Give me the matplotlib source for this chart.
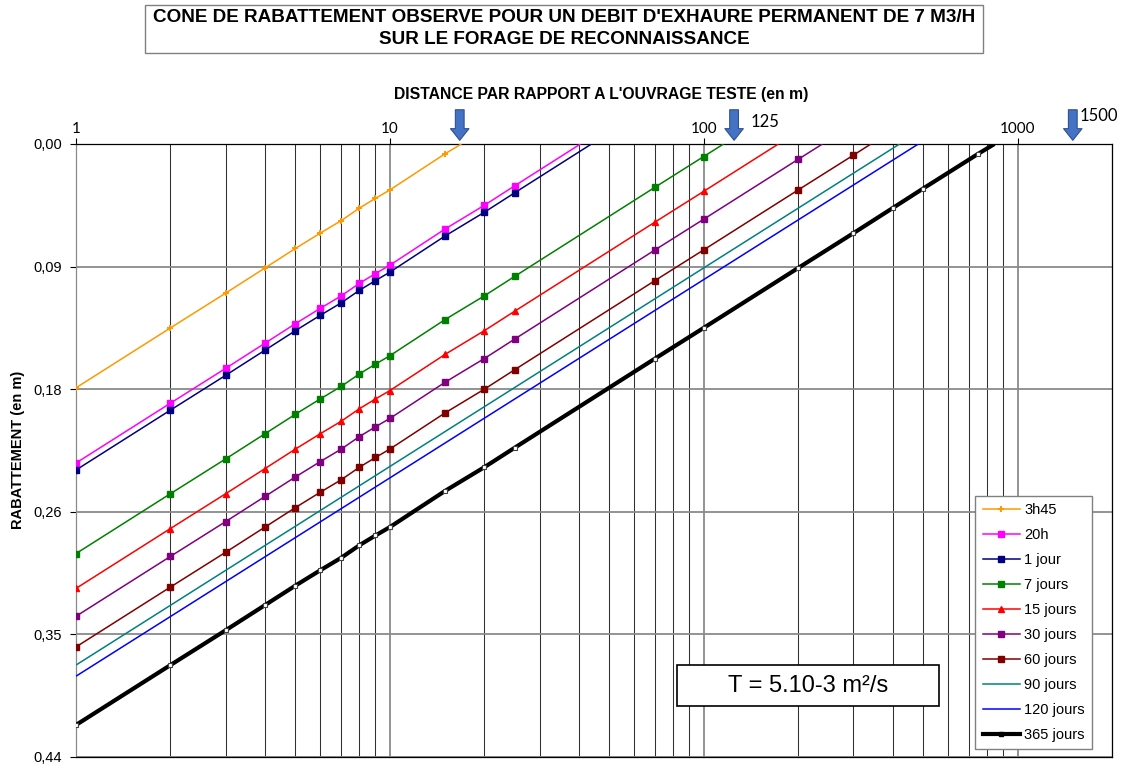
import matplotlib
matplotlib.use('Agg')
import matplotlib.pyplot as plt
from matplotlib.ticker import FixedLocator, FixedFormatter, NullFormatter
from matplotlib.patches import Rectangle
from matplotlib.lines import Line2D

plt.rcParams['font.family'] = ['Liberation Sans', 'DejaVu Sans']

W, H = 1123, 767

# ---------------- data (distance in m, drawdown in m) ----------------
r_3h45 = [1, 2, 3, 4, 5, 6, 7, 8, 9, 10, 15]
s_3h45 = [0.175, 0.132, 0.107, 0.089, 0.075, 0.064, 0.055, 0.046, 0.039, 0.033, 0.007]
r0_3h45 = 16.9

r_20h = [1, 2, 3, 4, 5, 6, 7, 8, 9, 10, 15, 20, 25]
s_20h = [0.229, 0.186, 0.161, 0.143, 0.129, 0.118, 0.109, 0.100, 0.093, 0.087, 0.061, 0.044, 0.030]
r0_20h = 40.5

r_1j = [1, 2, 3, 4, 5, 6, 7, 8, 9, 10, 15, 20, 25]
s_1j = [0.234, 0.191, 0.166, 0.148, 0.134, 0.123, 0.114, 0.105, 0.098, 0.092, 0.066, 0.049, 0.035]
r0_1j = 43.9

r_7j = [1, 2, 3, 4, 5, 6, 7, 8, 9, 10, 15, 20, 25, 70, 100]
s_7j = [0.294, 0.251, 0.226, 0.208, 0.194, 0.183, 0.174, 0.165, 0.158, 0.152, 0.126, 0.109, 0.095, 0.031, 0.009]
r0_7j = 115.7

r_15j = [1, 2, 3, 4, 5, 6, 7, 8, 9, 10, 15, 20, 25, 70, 100]
s_15j = [0.319, 0.276, 0.251, 0.233, 0.219, 0.208, 0.199, 0.190, 0.183, 0.177, 0.151, 0.134, 0.120, 0.056, 0.034]
r0_15j = 173

r_30j = [1, 2, 3, 4, 5, 6, 7, 8, 9, 10, 15, 20, 25, 70, 100, 200]
s_30j = [0.339, 0.296, 0.271, 0.253, 0.239, 0.228, 0.219, 0.210, 0.203, 0.197, 0.171, 0.154, 0.140, 0.076, 0.054, 0.011]
r0_30j = 239

r_60j = [1, 2, 3, 4, 5, 6, 7, 8, 9, 10, 15, 20, 25, 70, 100, 200, 300]
s_60j = [0.361, 0.318, 0.293, 0.275, 0.261, 0.250, 0.241, 0.232, 0.225, 0.219, 0.193, 0.176, 0.162, 0.098, 0.076, 0.033, 0.008]
r0_60j = 341

r_90j = [1]
s_90j = [0.374]
r0_90j = 421

r_120j = [1]
s_120j = [0.382]
r0_120j = 483

r_365j = [1, 2, 3, 4, 5, 6, 7, 8, 9, 10, 15, 20, 25, 70, 100, 200, 300, 400, 500, 750]
s_365j = [0.417, 0.374, 0.349, 0.331, 0.317, 0.306, 0.297, 0.288, 0.281, 0.275, 0.249, 0.232, 0.218, 0.154, 0.132, 0.089, 0.064, 0.046, 0.032, 0.007]
r0_365j = 844

labels = ['3h45', '20h', '1 jour', '7 jours', '15 jours', '30 jours', '60 jours', '90 jours', '120 jours', '365 jours']
colors = ['#FF9900', '#FF00FF', '#000080', '#008000', '#FF0000', '#800080', '#800000', '#008080', '#0000FF', '#000000']
markers = ['+', 's', 's', 's', '^', 's', 's', None, None, 's']

y_ticks = [0.0, 0.088, 0.176, 0.264, 0.352, 0.44]
x_major = [1, 10, 100, 1000]
arrow_r = [16.7, 125, 1500]
arrow_txt = ['', '125', '1500']

series = [
    (r_3h45, s_3h45, r0_3h45), (r_20h, s_20h, r0_20h), (r_1j, s_1j, r0_1j),
    (r_7j, s_7j, r0_7j), (r_15j, s_15j, r0_15j), (r_30j, s_30j, r0_30j),
    (r_60j, s_60j, r0_60j), (r_90j, s_90j, r0_90j), (r_120j, s_120j, r0_120j),
    (r_365j, s_365j, r0_365j),
]

# ---------------- figure ----------------
fig = plt.figure(figsize=(W / 100, H / 100), dpi=100)
L, R, T, B = 76, 1112, 144, 757
ax = fig.add_axes([L / W, 1 - B / H, (R - L) / W, (B - T) / H])

def fx(x):
    return x / W

def fy(y):
    return 1 - y / H

handles = []
for (r, s, r0), lab, col, mk in zip(series, labels, colors, markers):
    lw = 3.0 if lab == '365 jours' else 1.1
    ax.plot(list(r) + [r0], list(s) + [0.0], color=col, lw=lw, zorder=3,
            solid_capstyle='butt')
    if mk is not None:
        if lab == '365 jours':
            ax.plot(r, s, linestyle='none', marker=mk, ms=3.5, mfc='white',
                    mec='#404040', mew=0.8, zorder=4)
            hm = dict(marker=mk, ms=3.5, mfc='black', mec='black')
        elif mk == '+':
            ax.plot(r, s, linestyle='none', marker=mk, ms=4, mec=col, mew=1.4, zorder=4)
            hm = dict(marker=mk, ms=4, mec=col, mew=1.4)
        else:
            ax.plot(r, s, linestyle='none', marker=mk, ms=3.8, mfc=col, mec=col, zorder=4)
            hm = dict(marker=mk, ms=3.8, mfc=col, mec=col)
    else:
        hm = dict(marker=None)
    handles.append(Line2D([0], [0], color=col, lw=lw, **hm))

ax.set_xscale('log')
ax.set_xlim(1, 2000)
ax.set_ylim(0.44, 0.0)

ax.xaxis.set_major_locator(FixedLocator(x_major))
ax.xaxis.set_major_formatter(FixedFormatter([str(v) for v in x_major]))
minors = [m * 10 ** d for d in range(0, 4) for m in range(2, 10) if m * 10 ** d <= 2000]
ax.xaxis.set_minor_locator(FixedLocator(minors))
ax.xaxis.set_minor_formatter(NullFormatter())
ax.xaxis.tick_top()
ax.tick_params(axis='x', which='major', length=4, width=0.8, pad=2, labelsize=11,
               top=True, bottom=False, labeltop=True, labelbottom=False)
ax.tick_params(axis='x', which='minor', length=0)
for t in ax.get_xticklabels():
    t.set_fontfamily(['Lato', 'DejaVu Sans'])

ax.yaxis.set_major_locator(FixedLocator(y_ticks))
ax.yaxis.set_major_formatter(FixedFormatter([f"{v:.2f}".replace('.', ',') for v in y_ticks]))
ax.tick_params(axis='y', which='major', length=4, width=0.8, pad=6, labelsize=10.5)

ax.grid(True, which='major', axis='x', color='#8a8a8a', lw=1.3)
ax.grid(True, which='minor', axis='x', color='#303030', lw=0.75)
ax.grid(True, which='major', axis='y', color='#8a8a8a', lw=1.3)
ax.set_axisbelow(True)
for sp in ax.spines.values():
    sp.set_color('black')
    sp.set_linewidth(0.9)
ax.spines['left'].set_color('#8a8a8a')

leg = ax.legend(handles, labels, loc='lower right',
                bbox_to_anchor=((1092 - L) / (R - L), (B - 749) / (B - T)),
                borderaxespad=0, fontsize=10.5, frameon=True, fancybox=False,
                framealpha=1, edgecolor='#808080', handlelength=2.6,
                handletextpad=0.25, labelspacing=0.75, borderpad=0.5)
leg.get_frame().set_linewidth(1.0)
leg.set_zorder(10)

# arrows on the top axis
for rr, txt in zip(arrow_r, arrow_txt):
    ax.annotate('', xy=(rr, 1.006), xycoords=('data', 'axes fraction'),
                xytext=(0, 22), textcoords='offset points',
                arrowprops=dict(arrowstyle='simple,head_length=0.6,head_width=0.95,tail_width=0.45',
                                fc='#4472C4', ec='#2F528F', lw=0.8, shrinkA=0, shrinkB=0,
                                mutation_scale=14),
                annotation_clip=False)
    if txt:
        ax.annotate(txt, xy=(rr, 1.0), xycoords=('data', 'axes fraction'),
                    xytext=(12 if txt == '125' else 5, 16 if txt == '125' else 20),
                    textcoords='offset points',
                    ha='left', va='center', fontsize=12,
                    fontfamily=['Lato', 'DejaVu Sans'], annotation_clip=False)

# title box
fig.patches.append(Rectangle((fx(145), fy(53)), fx(983) - fx(145), fy(5) - fy(53),
                             transform=fig.transFigure, fill=False, ec='#808080', lw=1.0))
fig.text(fx(564), fy(18), "CONE DE RABATTEMENT OBSERVE POUR UN DEBIT D'EXHAURE PERMANENT DE 7 M3/H",
         ha='center', va='center', fontsize=13.6, fontweight='bold')
fig.text(fx(564), fy(40), "SUR LE FORAGE DE RECONNAISSANCE",
         ha='center', va='center', fontsize=13.6, fontweight='bold')

fig.text(fx(601), fy(95), "DISTANCE PAR RAPPORT A L'OUVRAGE TESTE (en m)",
         ha='center', va='center', fontsize=11.3, fontweight='bold')
fig.text(fx(18), fy(450), "RABATTEMENT (en m)", rotation=90,
         ha='center', va='center', fontsize=10.5, fontweight='bold')

# transmissivity box
fig.patches.append(Rectangle((fx(677), fy(706)), fx(939) - fx(677), fy(665) - fy(706),
                             transform=fig.transFigure, fc='white', ec='black', lw=1.2, zorder=5))
fig.text(fx(808), fy(686), "T = 5.10-3 m²/s", ha='center', va='center', fontsize=17, zorder=6)

fig.savefig('out.png', dpi=100)
